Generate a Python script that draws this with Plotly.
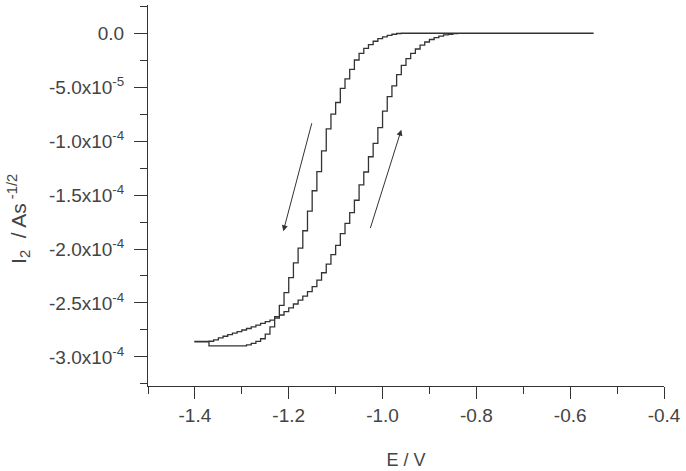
import plotly.graph_objects as go

# ---- data (current in units of 1e-4 A s^-1/2, potential in V) ----
I_SCALE = 1e-4

# cathodic (forward) scan, from -0.55 V towards -1.40 V
E_fwd = [-0.55, -0.96, -0.97, -0.98, -0.99, -1.00, -1.01, -1.02, -1.03, -1.04,
         -1.05, -1.06, -1.07, -1.08, -1.09, -1.10, -1.11, -1.12, -1.13, -1.14,
         -1.15, -1.16, -1.17, -1.18, -1.19, -1.20, -1.21, -1.22, -1.23, -1.24,
         -1.25, -1.26, -1.27, -1.28, -1.29, -1.37, -1.37, -1.40]
I_fwd = [0.0, -0.002, -0.009, -0.019, -0.033, -0.050, -0.074, -0.105, -0.140, -0.186,
         -0.248, -0.335, -0.422, -0.511, -0.642, -0.750, -0.886, -1.090, -1.282, -1.460,
         -1.648, -1.831, -1.992, -2.128, -2.266, -2.404, -2.523, -2.627, -2.722, -2.790,
         -2.832, -2.856, -2.874, -2.889, -2.898, -2.898, -2.860, -2.860]

# anodic (return) scan, from -1.40 V back to -0.55 V
E_rev = [-1.40, -1.37, -1.36, -1.35, -1.34, -1.33, -1.32, -1.31, -1.30, -1.29,
         -1.28, -1.27, -1.26, -1.25, -1.24, -1.23, -1.22, -1.21, -1.20, -1.19,
         -1.18, -1.17, -1.16, -1.15, -1.14, -1.13, -1.12, -1.11, -1.10, -1.09,
         -1.08, -1.07, -1.06, -1.05, -1.04, -1.03, -1.02, -1.01, -1.00, -0.99,
         -0.98, -0.97, -0.96, -0.95, -0.94, -0.93, -0.92, -0.91, -0.90, -0.89,
         -0.88, -0.87, -0.86, -0.85, -0.84, -0.55]
I_rev = [-2.857, -2.855, -2.842, -2.824, -2.809, -2.794, -2.779, -2.766, -2.751, -2.737,
         -2.722, -2.705, -2.689, -2.674, -2.659, -2.640, -2.612, -2.581, -2.546, -2.510,
         -2.473, -2.437, -2.396, -2.348, -2.289, -2.220, -2.140, -2.053, -1.967, -1.858,
         -1.762, -1.663, -1.548, -1.406, -1.286, -1.145, -1.020, -0.875, -0.721, -0.588,
         -0.488, -0.384, -0.297, -0.235, -0.187, -0.146, -0.110, -0.081, -0.058, -0.041,
         -0.026, -0.015, -0.010, -0.004, 0.0, 0.0]

# scan-direction arrows (tail -> head), E in V, I in 1e-4 units
arrow_down = dict(tail=(-1.150, -0.82), head=(-1.2115, -1.835))
arrow_up = dict(tail=(-1.027, -1.82), head=(-0.960, -0.894))

x_tickvals = [-1.4, -1.2, -1.0, -0.8, -0.6, -0.4]
x_ticktext = ["-1.4", "-1.2", "-1.0", "-0.8", "-0.6", "-0.4"]
y_tickvals = [0.0, -0.5, -1.0, -1.5, -2.0, -2.5, -3.0]
y_ticktext = ["0.0", "-5.0x10<sup>-5</sup>", "-1.0x10<sup>-4</sup>", "-1.5x10<sup>-4</sup>",
              "-2.0x10<sup>-4</sup>", "-2.5x10<sup>-4</sup>", "-3.0x10<sup>-4</sup>"]
x_title = "E / V"
y_title = "I<sub>2</sub>  / As<sup> -1/2</sup>"

# ---- figure ----
LINE = "#333333"
TEXT = "#444444"
FONT = "Liberation Sans, Arial, sans-serif"
W, H = 686, 471
ML, MR, MT, MB = 148, 20, 5, 84

E_all = E_fwd + E_rev
I_all = [v * I_SCALE for v in I_fwd + I_rev]

fig = go.Figure()
fig.add_trace(go.Scatter(x=E_all, y=I_all, mode="lines", line_shape="hv",
                         line=dict(color=LINE, width=1.3), showlegend=False,
                         hoverinfo="skip"))

for a in (arrow_down, arrow_up):
    fig.add_annotation(x=a["head"][0], y=a["head"][1] * I_SCALE,
                       ax=a["tail"][0], ay=a["tail"][1] * I_SCALE,
                       xref="x", yref="y", axref="x", ayref="y",
                       showarrow=True, arrowhead=2, arrowsize=1.2, arrowwidth=1,
                       arrowcolor=LINE, text="")

# y-axis title placed as a rotated annotation (sits a little below centre in the original)
plot_w = W - ML - MR
plot_h = H - MT - MB
fig.add_annotation(text=y_title, textangle=-90, showarrow=False,
                   xref="paper", yref="paper",
                   x=-(ML - 18) / plot_w, y=(H - MB - 220) / plot_h,
                   xanchor="center", yanchor="middle",
                   font=dict(size=21, color=TEXT, family=FONT))

fig.update_layout(
    width=W, height=H,
    margin=dict(l=ML, r=MR, t=MT, b=MB),
    plot_bgcolor="white", paper_bgcolor="white",
    font=dict(family=FONT, color=TEXT, size=19),
)
fig.update_xaxes(
    range=[-1.5, -0.4], showgrid=False, zeroline=False,
    showline=True, linecolor=LINE, linewidth=1,
    ticks="outside", ticklen=12, tickcolor=LINE, tickwidth=1,
    tickvals=x_tickvals, ticktext=x_ticktext,
    tickfont=dict(size=19, color=TEXT),
    minor=dict(dtick=0.1, tick0=-1.5, ticks="outside", ticklen=7, tickcolor=LINE),
    title=dict(text=x_title, font=dict(size=18, color=TEXT), standoff=28),
)
fig.update_yaxes(
    range=[-3.27e-4, 2.62e-5], showgrid=False, zeroline=False,
    showline=True, linecolor=LINE, linewidth=1,
    ticks="outside", ticklen=13, tickcolor=LINE, tickwidth=1,
    tickvals=[v * I_SCALE for v in y_tickvals], ticktext=y_ticktext,
    tickfont=dict(size=19, color=TEXT), ticklabelstandoff=6,
    minor=dict(dtick=0.25e-4, tick0=0, ticks="outside", ticklen=7, tickcolor=LINE),
)

fig.write_html("out.html")
